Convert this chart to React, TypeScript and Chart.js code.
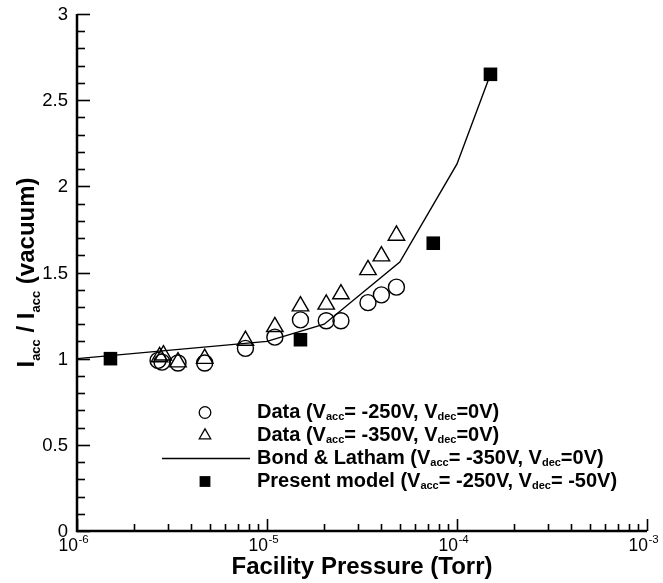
import React, { useEffect, useRef } from 'react';
import { Chart, registerables } from 'chart.js';

Chart.register(...registerables);

// ---- data ----
const circleX = [2.67e-6, 2.8e-6, 3.4e-6, 4.7e-6, 7.7e-6, 1.1e-5, 1.5e-5, 2.05e-5, 2.45e-5, 3.4e-5, 4.0e-5, 4.8e-5];
const circleY = [0.99, 0.98, 0.975, 0.975, 1.06, 1.125, 1.225, 1.22, 1.22, 1.325, 1.37, 1.415];

const triangleX = [2.72e-6, 2.85e-6, 3.4e-6, 4.7e-6, 7.7e-6, 1.1e-5, 1.5e-5, 2.05e-5, 2.45e-5, 3.4e-5, 4.0e-5, 4.8e-5];
const triangleY = [1.01, 1.02, 0.98, 1.0, 1.105, 1.185, 1.305, 1.315, 1.375, 1.515, 1.595, 1.715];

const bondX = [1e-6, 1e-5, 2e-5, 5e-5, 1e-4, 1.5e-4];
const bondY = [1.0, 1.1, 1.2, 1.56, 2.13, 2.65];

const modelX = [1.5e-6, 1.5e-5, 7.5e-5, 1.5e-4];
const modelY = [1.0, 1.11, 1.67, 2.65];

const xDecades = [-6, -5, -4, -3];
const yMajorValues = [0, 0.5, 1, 1.5, 2, 2.5, 3];
const yTickLabels = ['0', '0.5', '1', '1.5', '2', '2.5', '3'];

const xTitle = 'Facility Pressure (Torr)';
// [text, isSubscript]
const yTitleParts: [string, boolean][] = [['I', false], ['acc', true], [' / I', false], ['acc', true], [' (vacuum)', false]];

const legendRows: [string, boolean][][] = [
  [['Data (V', false], ['acc', true], ['= -250V, V', false], ['dec', true], ['=0V)', false]],
  [['Data (V', false], ['acc', true], ['= -350V, V', false], ['dec', true], ['=0V)', false]],
  [['Bond & Latham (V', false], ['acc', true], ['= -350V, V', false], ['dec', true], ['=0V)', false]],
  [['Present model (V', false], ['acc', true], ['= -250V, V', false], ['dec', true], ['= -50V)', false]],
];
const legendMarkers = ['circle', 'triangle', 'line', 'rect'];

const FONT = '"Liberation Sans", Arial, Helvetica, sans-serif';

function toXY(xs: number[], ys: number[]) {
  return xs.map((x, i) => ({ x, y: ys[i] }));
}

function richWidth(ctx: CanvasRenderingContext2D, parts: [string, boolean][], main: string, sub: string) {
  let w = 0;
  for (const [t, s] of parts) {
    ctx.font = s ? sub : main;
    w += ctx.measureText(t).width;
  }
  return w;
}

function drawRich(ctx: CanvasRenderingContext2D, parts: [string, boolean][], x: number, y: number, main: string, sub: string, subDrop: number) {
  let cx = x;
  ctx.textAlign = 'left';
  ctx.textBaseline = 'alphabetic';
  for (const [t, s] of parts) {
    ctx.font = s ? sub : main;
    ctx.fillText(t, cx, s ? y + subDrop : y);
    cx += ctx.measureText(t).width;
  }
}

function drawMarker(ctx: CanvasRenderingContext2D, kind: string, x: number, y: number) {
  ctx.save();
  ctx.strokeStyle = '#000';
  ctx.fillStyle = '#000';
  ctx.lineWidth = 1.3;
  if (kind === 'circle') {
    ctx.beginPath();
    ctx.arc(x, y, 5.8, 0, Math.PI * 2);
    ctx.stroke();
  } else if (kind === 'triangle') {
    const r = 6.6;
    ctx.beginPath();
    ctx.moveTo(x, y - r);
    ctx.lineTo(x + r * 0.866, y + r * 0.5);
    ctx.lineTo(x - r * 0.866, y + r * 0.5);
    ctx.closePath();
    ctx.stroke();
  } else if (kind === 'line') {
    ctx.beginPath();
    ctx.moveTo(162, y);
    ctx.lineTo(250, y);
    ctx.stroke();
  } else {
    ctx.fillRect(x - 5.4, y - 5.4, 10.8, 10.8);
  }
  ctx.restore();
}

const decorPlugin = {
  id: 'decor',
  afterDraw(chart: any) {
    const ctx: CanvasRenderingContext2D = chart.ctx;
    const xs = chart.scales.x;
    const ys = chart.scales.y;
    const { left, right, top, bottom } = chart.chartArea;
    ctx.save();
    ctx.strokeStyle = '#000';
    ctx.fillStyle = '#000';

    // axis lines
    ctx.lineWidth = 2.5;
    ctx.beginPath();
    ctx.moveTo(left, top);
    ctx.lineTo(left, bottom);
    ctx.lineTo(right, bottom);
    ctx.stroke();

    // y ticks (inward)
    ctx.lineWidth = 1.6;
    for (let i = 0; i <= 30; i++) {
      const v = i / 10;
      const py = Math.round(ys.getPixelForValue(v)) + 0.5;
      const len = i % 5 === 0 ? 13 : 8;
      ctx.beginPath();
      ctx.moveTo(left, py);
      ctx.lineTo(left + len, py);
      ctx.stroke();
    }
    // x ticks (inward)
    for (let d = -6; d <= -3; d++) {
      const mMax = d === -3 ? 1 : 9;
      for (let m = 1; m <= mMax; m++) {
        const v = m * Math.pow(10, d);
        const px = Math.round(xs.getPixelForValue(v)) + 0.5;
        const len = m === 1 ? 12 : 7;
        ctx.beginPath();
        ctx.moveTo(px, bottom);
        ctx.lineTo(px, bottom - len);
        ctx.stroke();
      }
    }

    // y tick labels
    ctx.font = `18.5px ${FONT}`;
    ctx.textAlign = 'right';
    ctx.textBaseline = 'middle';
    yMajorValues.forEach((v, i) => {
      ctx.fillText(yTickLabels[i], left - 9, ys.getPixelForValue(v) + 1);
    });

    // x tick labels 10^n
    xDecades.forEach((d) => {
      const px = xs.getPixelForValue(Math.pow(10, d));
      ctx.font = `17.5px ${FONT}`;
      ctx.textAlign = 'right';
      ctx.textBaseline = 'alphabetic';
      ctx.fillText('10', px + 1, 551);
      ctx.font = `11.5px ${FONT}`;
      ctx.textAlign = 'left';
      ctx.fillText(`-${Math.abs(d)}`, px + 1.5, 543);
    });

    // x title
    ctx.font = `bold 24px ${FONT}`;
    ctx.textAlign = 'center';
    ctx.textBaseline = 'alphabetic';
    ctx.fillText(xTitle, (left + right) / 2, 574);

    // y title (rotated)
    const mainY = `bold 24px ${FONT}`;
    const subY = `bold 13px ${FONT}`;
    const wY = richWidth(ctx, yTitleParts, mainY, subY);
    ctx.save();
    ctx.translate(34, (top + bottom) / 2);
    ctx.rotate(-Math.PI / 2);
    drawRich(ctx, yTitleParts, -wY / 2, 0, mainY, subY, 6);
    ctx.restore();

    // legend
    const mainL = `bold 20px ${FONT}`;
    const subL = `bold 11px ${FONT}`;
    const baselines = [417.5, 440.5, 463.5, 486.5];
    legendRows.forEach((parts, i) => {
      drawMarker(ctx, legendMarkers[i], 205, baselines[i] - 5);
      drawRich(ctx, parts, 257, baselines[i], mainL, subL, 2.5);
    });

    ctx.restore();
  },
};

export default function App() {
  const ref = useRef<HTMLCanvasElement | null>(null);

  useEffect(() => {
    document.body.style.margin = '0';
    const canvas = ref.current;
    if (!canvas) return;
    const chart = new Chart(canvas, {
      type: 'scatter',
      data: {
        datasets: [
          {
            label: 'Bond & Latham',
            data: toXY(bondX, bondY),
            showLine: true,
            borderColor: '#000',
            borderWidth: 1.4,
            pointRadius: 0,
            fill: false,
            tension: 0,
            order: 4,
          } as any,
          {
            label: 'Data -250V',
            data: toXY(circleX, circleY),
            pointStyle: 'circle',
            pointRadius: 8,
            pointBorderWidth: 1.4,
            pointBackgroundColor: 'rgba(0,0,0,0)',
            pointBorderColor: '#000',
            borderColor: '#000',
            backgroundColor: 'rgba(0,0,0,0)',
            order: 3,
          },
          {
            label: 'Data -350V',
            data: toXY(triangleX, triangleY),
            pointStyle: 'triangle',
            pointRadius: 9.5,
            pointBorderWidth: 1.4,
            pointBackgroundColor: 'rgba(0,0,0,0)',
            pointBorderColor: '#000',
            borderColor: '#000',
            backgroundColor: 'rgba(0,0,0,0)',
            order: 2,
          },
          {
            label: 'Present model',
            data: toXY(modelX, modelY),
            pointStyle: 'rect',
            pointRadius: 9.6,
            pointBorderWidth: 0,
            pointBackgroundColor: '#000',
            pointBorderColor: '#000',
            backgroundColor: '#000',
            order: 1,
          },
        ],
      },
      options: {
        responsive: false,
        animation: false,
        layout: { padding: { left: 77, right: 16, top: 14, bottom: 52 } },
        plugins: { legend: { display: false }, tooltip: { enabled: false } },
        scales: {
          x: { type: 'logarithmic', min: 1e-6, max: 1e-3, display: false },
          y: { type: 'linear', min: 0, max: 3, display: false },
        },
      },
      plugins: [decorPlugin],
    });
    return () => chart.destroy();
  }, []);

  return (
    <div style={{ width: 663, height: 583, background: '#fff' }}>
      <canvas ref={ref} width={663} height={583} style={{ display: 'block' }} />
    </div>
  );
}
